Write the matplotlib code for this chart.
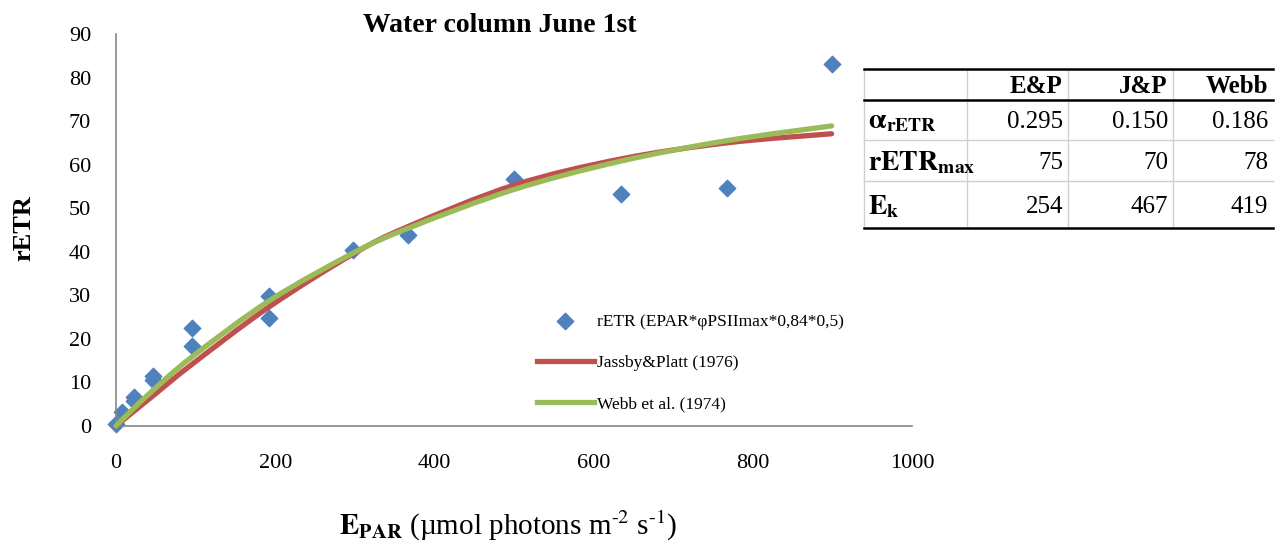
import matplotlib.pyplot as plt
from matplotlib.patches import Rectangle, PathPatch
from matplotlib.path import Path

plt.rcParams['font.family'] = ['Liberation Serif', 'DejaVu Serif']
plt.rcParams['mathtext.fontset'] = 'stix'

# measured rETR points
epar = [0, 8, 22, 23, 47, 47, 95, 95, 192, 192, 298, 367, 500, 634, 767, 899]
retr = [0.5, 3.3, 5.8, 6.7, 10.6, 11.5, 18.4, 22.4, 24.7, 29.9, 40.4, 43.8, 56.6, 53.2, 54.7, 83.0]

# fitted curves, read at the sample irradiances
fit_x = [0, 8, 22, 47, 95, 192, 298, 367, 500, 634, 767, 899]
jp_y = [0, 1.2, 3.3, 7.0, 14.1, 27.3, 39.5, 45.8, 55.3, 61.3, 65.0, 67.1]
webb_y = [0, 1.5, 4.0, 8.3, 15.8, 28.7, 39.7, 45.4, 54.3, 60.8, 65.5, 68.9]

# parameter table
col_names = ['E&P', 'J&P', 'Webb']
row_names = [r'$\mathbf{\alpha_{rETR}}$', r'$\mathbf{rETR_{max}}$', r'$\mathbf{E_{k}}$']
table_vals = [['0.295', '0.150', '0.186'],
              ['75', '70', '78'],
              ['254', '467', '419']]


def smooth_path(xs, ys):
    # Excel-style smoothed line: bezier segments through the points
    pts = list(zip(xs, ys))
    verts = [pts[0]]
    codes = [Path.MOVETO]
    n = len(pts)
    for i in range(n - 1):
        p0 = pts[i - 1] if i > 0 else pts[i]
        p1 = pts[i]
        p2 = pts[i + 1]
        p3 = pts[i + 2] if i + 2 < n else pts[i + 1]
        c1 = (p1[0] + (p2[0] - p0[0]) / 6, p1[1] + (p2[1] - p0[1]) / 6)
        c2 = (p2[0] - (p3[0] - p1[0]) / 6, p2[1] - (p3[1] - p1[1]) / 6)
        verts += [c1, c2, p2]
        codes += [Path.CURVE4] * 3
    return Path(verts, codes)


W, H = 1285, 546
fig = plt.figure(figsize=(W / 100, H / 100), dpi=100)

ax = fig.add_axes([116 / W, 1 - 426 / H, (912 - 116) / W, (426 - 34) / H])
ax.scatter(epar, retr, marker='D', s=70, color='#4F81BD', zorder=2,
           label='rETR (EPAR*φPSIImax*0,84*0,5)', clip_on=False)
for ys, col, lab, z in [(jp_y, '#C0504D', 'Jassby&Platt (1976)', 3),
                        (webb_y, '#9BBB59', 'Webb et al. (1974)', 4)]:
    ax.add_patch(PathPatch(smooth_path(fit_x, ys), facecolor='none', edgecolor=col,
                           lw=3.8, zorder=z, capstyle='round', clip_on=False))
    ax.plot([], [], color=col, lw=3.8, label=lab)

ax.set_xlim(0, 1000)
ax.set_ylim(0, 90)
ax.set_xticks(range(0, 1001, 200))
ax.set_yticks(range(0, 91, 10))
ax.tick_params(length=0, labelsize=16)
ax.tick_params(axis='x', pad=20)
ax.tick_params(axis='y', pad=18)
for s in ['top', 'right']:
    ax.spines[s].set_visible(False)
for s in ['left', 'bottom']:
    ax.spines[s].set_color('#868686')
    ax.spines[s].set_linewidth(1.2)

leg = ax.legend(loc='center left', bbox_to_anchor=(528 / W, 1 - 363 / H),
                bbox_transform=fig.transFigure, frameon=False, fontsize=12.5,
                handlelength=3.3, handletextpad=0.2, labelspacing=1.45, borderpad=0)

fig.text(500 / W, 1 - 25 / H, 'Water column June 1st', ha='center', va='center',
         fontsize=20, fontweight='bold')
fig.text(24 / W, 1 - 228 / H, 'rETR', ha='center', va='center', rotation=90,
         fontsize=19, fontweight='bold')
fig.text(508 / W, 1 - 526 / H,
         r'$\mathbf{E_{PAR}}$ (µmol photons m$^{\text{-2}}$ s$^{\text{-1}}$)',
         ha='center', va='center', fontsize=21)

# table drawn in its own pixel-based axes
tl, tt, tr, tb = 864, 69, 1273, 228
tax = fig.add_axes([tl / W, 1 - tb / H, (tr - tl) / W, (tb - tt) / H])
tax.set_xlim(0, tr - tl)
tax.set_ylim(tb - tt, 0)
tax.axis('off')
cols = [0, 103, 204, 309, 409]
rows = [0, 31, 71, 112, 159]
grey = '#D0D0D0'
for cx in cols[:-1]:
    tax.plot([cx, cx], [0, rows[-1]], color=grey, lw=1, clip_on=False)
for ry in rows[2:-1]:
    tax.plot([0, cols[-1]], [ry, ry], color=grey, lw=1, clip_on=False)
tax.plot([0, cols[-1]], [0, 0], color='black', lw=1.8, clip_on=False)
tax.plot([0, cols[-1]], [rows[1], rows[1]], color='black', lw=1.8, clip_on=False)
tax.plot([0, cols[-1]], [rows[-1], rows[-1]], color='black', lw=1.8, clip_on=False)

for j, name in enumerate(col_names):
    tax.text(cols[j + 2] - 5, (rows[0] + rows[1]) / 2 + 2, name, ha='right', va='center',
             fontsize=18, fontweight='bold')
for i, rname in enumerate(row_names):
    yc = (rows[i + 1] + rows[i + 2]) / 2 + 2
    t = tax.text(4, yc, rname, ha='left', va='center', fontsize=20)
    clip = Rectangle((0, rows[i + 1]), cols[1], rows[i + 2] - rows[i + 1],
                     transform=tax.transData, visible=False)
    tax.add_patch(clip)
    t.set_clip_path(clip)
    for j, v in enumerate(table_vals[i]):
        tax.text(cols[j + 2] - 5, yc, v, ha='right', va='center', fontsize=18)

fig.savefig('out.png', dpi=100)
